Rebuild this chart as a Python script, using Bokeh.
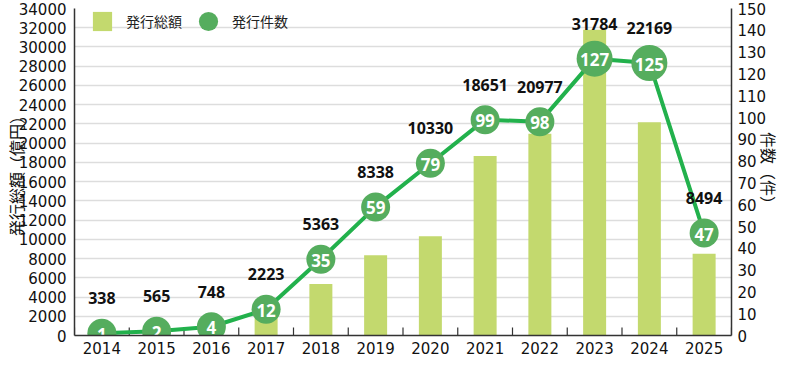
from bokeh.plotting import figure
from bokeh.models import (ColumnDataSource, LinearAxis, Range1d, FactorRange,
                          Legend, LegendItem, FixedTicker)
from bokeh.transform import dodge
from bokeh.core.properties import value
from bokeh.embed import file_html
from bokeh.resources import INLINE
import math

years = ["2014", "2015", "2016", "2017", "2018", "2019", "2020", "2021",
         "2022", "2023", "2024", "2025"]
amounts = [338, 565, 748, 2223, 5363, 8338, 10330, 18651, 20977, 31784, 22169, 8494]
counts = [1, 2, 4, 12, 35, 59, 79, 99, 98, 127, 125, 47]
left_ticks = list(range(0, 34001, 2000))
right_ticks = list(range(0, 151, 10))

BAR = "#c3d96e"
LINE = "#22b14c"
DOT = "#55ad5e"
JP = "Noto Sans CJK JP"
NUM = "DejaVu Sans"

src = ColumnDataSource(dict(
    year=years, amount=amounts, count=counts,
    amount_txt=[str(a) for a in amounts],
    count_txt=[str(c) for c in counts],
    dot_size=[36 if c >= 100 else 29 for c in counts],
    zero=[0] * len(years),
))
last_src = ColumnDataSource(dict(year=years[-1:], zero=[0]))
legend_src = ColumnDataSource(dict(year=years[:1], y=[float("nan")]))

p = figure(x_range=FactorRange(*years), y_range=Range1d(0, 34000),
           width=784, height=356, output_backend="svg", toolbar_location=None,
           min_border_top=8, min_border_left=0, min_border_right=0,
           min_border_bottom=0)
p.extra_y_ranges = {"cnt": Range1d(0, 150)}
p.outline_line_color = None

# grid
p.xgrid.grid_line_color = None
p.ygrid.grid_line_color = "#dddddd"
p.ygrid.grid_line_width = 1.5
p.ygrid.ticker = FixedTicker(ticks=left_ticks)


def style_axis(ax):
    ax.major_label_text_font = NUM
    ax.major_label_text_font_size = "15px"
    ax.major_label_text_color = "#111111"
    ax.major_tick_line_color = None
    ax.minor_tick_line_color = None
    ax.major_tick_out = 0
    ax.minor_tick_out = 0
    ax.major_tick_in = 0
    ax.minor_tick_in = 0
    ax.axis_line_color = "#333333"
    ax.axis_line_width = 1.5
    ax.axis_label_text_font = JP
    ax.axis_label_text_font_size = "16px"
    ax.axis_label_text_font_style = "normal"
    ax.axis_label_text_color = "#111111"
    ax.axis_label_text_line_height = 1.0


# left axis
ya = p.yaxis[0]
ya.ticker = FixedTicker(ticks=left_ticks)
style_axis(ya)
ya.axis_label = "発行総額（億円）"
ya.axis_label_standoff = -12
ya.major_label_standoff = 8

# right axis
ra = LinearAxis(y_range_name="cnt", ticker=FixedTicker(ticks=right_ticks))
style_axis(ra)
ra.axis_label = "件数（件）"
ra.axis_label_standoff = -12
ra.major_label_standoff = 6
p.add_layout(ra, "right")

# bottom axis
xa = p.xaxis[0]
style_axis(xa)
xa.major_label_standoff = 6

# boundary ticks pointing up (between categories)
p.ray(x=dodge("year", -0.5, range=p.x_range), y="zero", source=src,
      length=8, length_units="screen", angle=math.pi / 2,
      line_color="#333333", line_width=1.2)
p.ray(x=dodge("year", 0.5, range=p.x_range), y="zero", source=last_src,
      length=8, length_units="screen", angle=math.pi / 2,
      line_color="#333333", line_width=1.2)

# bars
p.vbar(x="year", top="amount", width=0.42, source=src,
       fill_color=BAR, line_color=None)

# line and dots
p.line(x="year", y="count", source=src, y_range_name="cnt",
       line_color=LINE, line_width=4)
p.scatter(x="year", y="count", size="dot_size", source=src,
          y_range_name="cnt", fill_color=DOT, line_color=None)

p.text(x="year", y="count", text="count_txt", source=src, y_range_name="cnt",
       text_color="white", text_font=value("Noto Sans"), text_font_style="bold",
       text_font_size="17px", text_align="center", text_baseline="middle",
       y_offset=1)

p.text(x="year", y="count", text="amount_txt", source=src, y_range_name="cnt",
       text_color="#111111", text_font=value("Noto Sans"), text_font_style="bold",
       text_font_size="16px", text_align="center", text_baseline="middle",
       y_offset=-35)

# legend (proxy renderers for the swatches; markers draw at 0.4 of the box)
leg_bar = p.scatter(x="year", y="y", source=legend_src, marker="square",
                    size=19, fill_color=BAR, line_color=None)
leg_dot = p.scatter(x="year", y="y", source=legend_src, marker="circle",
                    size=19, fill_color=DOT, line_color=None)
legend = Legend(items=[LegendItem(label="発行総額", renderers=[leg_bar]),
                       LegendItem(label="発行件数", renderers=[leg_dot])],
                orientation="horizontal", location=(4, 290),
                background_fill_alpha=0, border_line_color=None,
                label_text_font=JP, label_text_font_size="14px",
                label_text_color="#222222",
                glyph_width=48, glyph_height=48, spacing=2,
                label_standoff=-6, margin=0, padding=0)
p.add_layout(legend)

open("out.html", "w").write(file_html(p, INLINE))
